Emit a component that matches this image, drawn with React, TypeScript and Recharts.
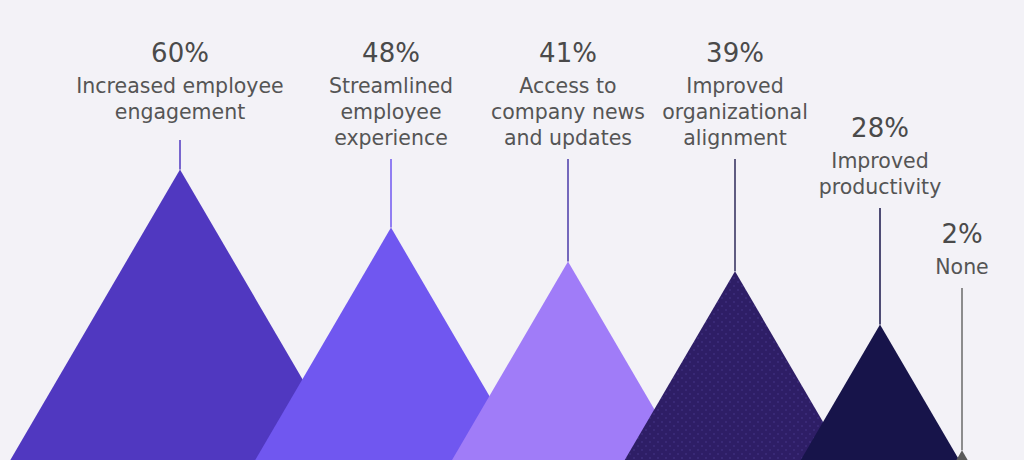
import { ScatterChart, Scatter, XAxis, YAxis } from 'recharts'

const CATEGORIES = [
  ['Increased employee', 'engagement'],
  ['Streamlined', 'employee', 'experience'],
  ['Access to', 'company news', 'and updates'],
  ['Improved', 'organizational', 'alignment'],
  ['Improved', 'productivity'],
  ['None'],
]
const VALUES = [60, 48, 41, 39, 28, 2]

// layout: where each peak sits on the x axis and where its label block goes
const CENTER_X = [180, 391, 568, 735, 880, 962]
const LABEL_Y = [62, 62, 62, 62, 137, 243]
const STEM_TOP = [140, 159, 159, 159, 208, 288]

const FILLS = ['#5038C0', '#7057F0', '#A07CF8', 'url(#dots)', '#17144A', '#5A5A5A']
const STEMS = ['#5038C0', '#7057F0', '#4A3AA8', '#2E2A5A', '#17144A', '#6A6A6A']

const W = 1024
const H = 460
const BASE_Y = H
const SLOPE = 0.584
const FONT = '"DejaVu Sans", sans-serif'

const data = VALUES.map((v, i) => ({ i, x: CENTER_X[i], v }))

function Peak(props: any) {
  const { cx, cy, payload } = props
  const h = BASE_Y - cy
  const hw = h * SLOPE
  return (
    <g>
      {payload.i === 3 && (
        <defs>
          <pattern id="dots" width="8" height="8" patternUnits="userSpaceOnUse">
            <rect width="8" height="8" fill="#2E1E66" />
            <circle cx="2" cy="2" r="0.7" fill="#4C3C92" />
            <circle cx="6" cy="6" r="0.7" fill="#4C3C92" />
          </pattern>
        </defs>
      )}
      <path d={`M${cx - hw},${BASE_Y}L${cx},${cy}L${cx + hw},${BASE_Y}Z`} fill={FILLS[payload.i]} />
    </g>
  )
}

function Label(props: any) {
  const { cx, cy, payload } = props
  const i = payload.i
  const y0 = LABEL_Y[i]
  return (
    <g>
      <line x1={cx} x2={cx} y1={STEM_TOP[i]} y2={cy} stroke={STEMS[i]} strokeWidth={1.5} />
      <text x={cx} y={y0} textAnchor="middle" fontFamily={FONT} fontSize={26} fill="#4A4A4A">
        {`${payload.v}%`}
      </text>
      {CATEGORIES[i].map((line, k) => (
        <text key={k} x={cx} y={y0 + 31 + k * 26} textAnchor="middle" fontFamily={FONT} fontSize={20.5} fill="#555555">
          {line}
        </text>
      ))}
    </g>
  )
}

export default function App() {
  return (
    <div style={{ position: 'absolute', left: 0, top: 0, width: W, height: H, background: '#F3F2F7' }}>
      <ScatterChart width={W} height={H} margin={{ top: 0, right: 0, bottom: 0, left: 0 }}>
        <XAxis type="number" dataKey="x" domain={[0, W]} hide />
        <YAxis type="number" dataKey="v" domain={[0, 95]} hide />
        <Scatter data={data} shape={Peak} isAnimationActive={false} />
        <Scatter data={data} shape={Label} isAnimationActive={false} />
      </ScatterChart>
    </div>
  )
}
